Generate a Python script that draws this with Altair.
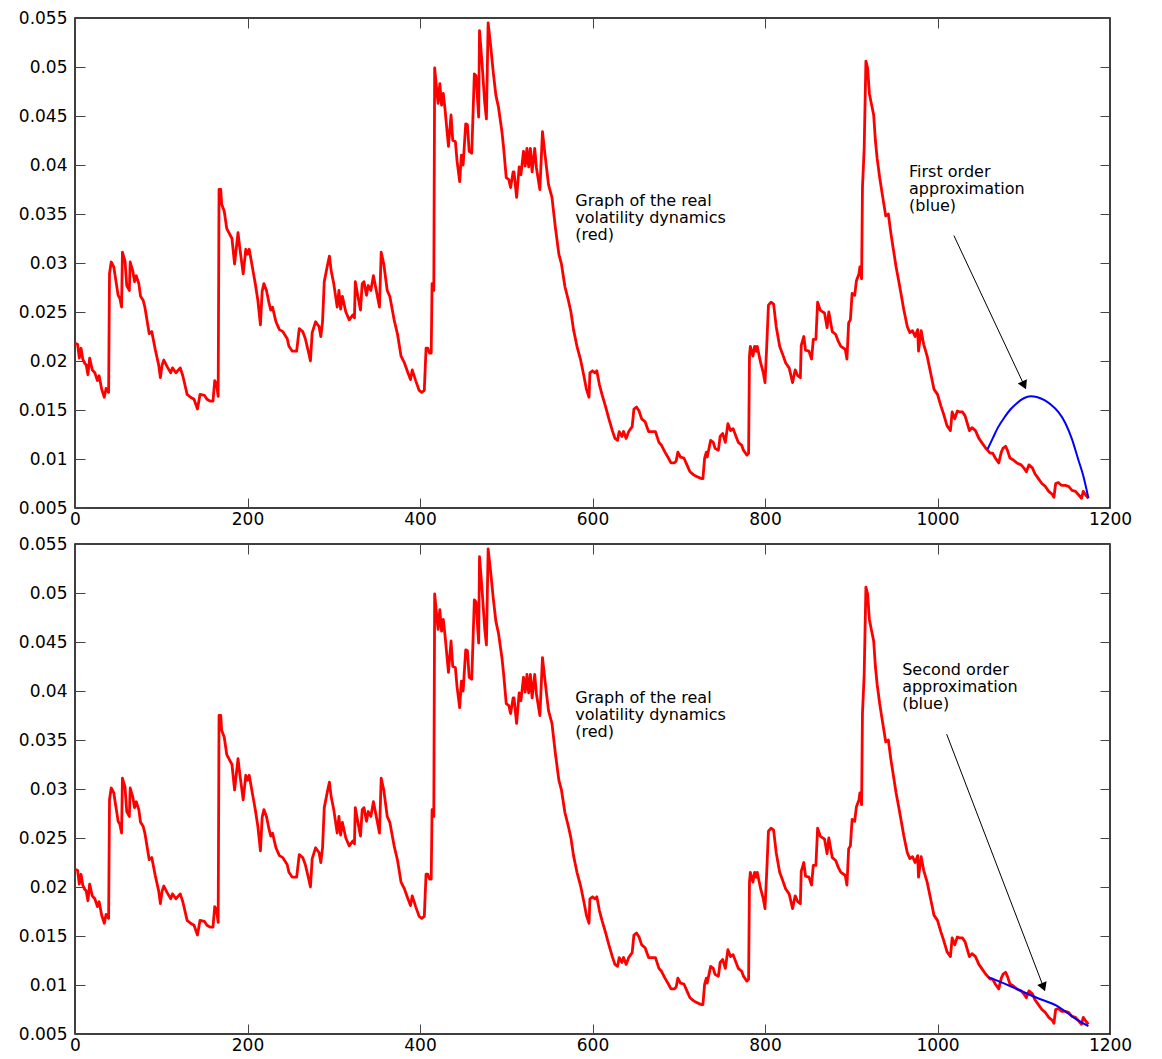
import altair as alt
import pandas as pd

# ---------------- data ----------------
t_red = [0, 3, 5, 7, 9, 11, 13, 15, 17, 20, 23, 26, 28, 31, 34, 36, 39, 40, 42, 45,
         50, 52, 54, 55, 58, 60, 63, 64, 67, 69, 71, 74, 76, 79, 81, 86, 89, 93, 97, 99,
         101, 103, 107, 111, 113, 117, 122, 125, 130, 134, 138, 142, 145, 150, 153, 157, 160, 162, 164, 166,
         167, 169, 170, 173, 176, 179, 182, 185, 189, 191, 195, 198, 200, 202, 206, 209, 212, 215, 217, 219,
         222, 225, 227, 229, 233, 237, 241, 243, 246, 248, 252, 257, 260, 264, 267, 271, 273, 275, 279, 283,
         285, 287, 289, 293, 295, 297, 300, 304, 306, 308, 310, 314, 318, 322, 324, 325, 328, 331, 333, 335,
         338, 340, 343, 346, 350, 353, 355, 358, 362, 365, 370, 374, 378, 382, 386, 389, 391, 395, 399, 402,
         405, 407, 409, 411, 413, 414, 416, 417, 420, 421, 423, 425, 427, 429, 433, 436, 438, 441, 443, 446,
         448, 450, 453, 455, 457, 460, 463, 465, 468, 469, 472, 475, 477, 479, 482, 485, 488, 491, 495, 497,
         500, 503, 505, 508, 509, 512, 515, 517, 520, 522, 524, 526, 528, 530, 533, 535, 539, 542, 545, 549,
         553, 557, 561, 564, 568, 572, 575, 578, 582, 586, 590, 593, 596, 597, 600, 603, 605, 608, 611, 615,
         619, 623, 626, 629, 631, 634, 636, 639, 642, 646, 648, 651, 654, 657, 661, 665, 669, 673, 677, 680,
         684, 688, 691, 695, 697, 699, 702, 706, 710, 713, 717, 721, 726, 728, 730, 732, 733, 737, 740, 742,
         746, 748, 751, 754, 757, 760, 763, 766, 769, 773, 775, 779, 781, 782, 783, 786, 788, 790, 791, 795,
         798, 800, 802, 804, 807, 810, 813, 817, 820, 824, 828, 832, 835, 838, 841, 842, 845, 847, 851, 854,
         856, 859, 861, 864, 867, 869, 872, 874, 878, 882, 885, 888, 893, 895, 897, 899, 901, 904, 906, 909,
         910, 912, 913, 915, 917, 919, 921, 923, 926, 928, 930, 933, 936, 940, 943, 946, 949, 952, 955, 958,
         961, 965, 968, 971, 974, 977, 978, 981, 984, 988, 992, 996, 1000, 1004, 1007, 1011, 1015, 1017, 1020, 1023,
         1026, 1029, 1032, 1034, 1037, 1040, 1044, 1048, 1052, 1056, 1058, 1061, 1064, 1067, 1071, 1074, 1076, 1079, 1081, 1084,
         1088, 1092, 1097, 1100, 1103, 1106, 1110, 1113, 1117, 1121, 1125, 1129, 1133, 1135, 1137, 1140, 1144, 1148, 1152, 1156,
         1160, 1164, 1167, 1169, 1172, 1175]
v_red = [.0218, .0217, .0203, .0213, .0202, .0198, .0196, .0186, .0203, .0191, .0188, .0180, .0185, .0171, .0163, .0172, .0168, .0289, .0301, .0296,
         .0267, .0264, .0255, .0311, .0302, .0277, .0272, .0301, .0292, .0281, .0287, .0279, .0266, .0262, .0255, .0228, .0230, .0212, .0196, .0183,
         .0196, .0201, .0194, .0188, .0193, .0188, .0193, .0185, .0166, .0163, .0161, .0151, .0166, .0165, .0161, .0159, .0159, .0180, .0177, .0164,
         .0375, .0375, .0360, .0353, .0335, .0330, .0325, .0299, .0331, .0316, .0289, .0314, .0309, .0314, .0294, .0279, .0262, .0237, .0271, .0279,
         .0272, .0259, .0252, .0255, .0240, .0232, .0230, .0227, .0223, .0215, .0210, .0210, .0233, .0230, .0223, .0208, .0200, .0229, .0240, .0235,
         .0225, .0240, .0281, .0299, .0307, .0292, .0279, .0255, .0272, .0253, .0266, .0250, .0242, .0247, .0244, .0281, .0266, .0252, .0279, .0281,
         .0267, .0277, .0272, .0287, .0269, .0255, .0311, .0299, .0272, .0266, .0242, .0227, .0205, .0198, .0188, .0181, .0191, .0180, .0170, .0168,
         .0170, .0213, .0213, .0208, .0208, .0279, .0272, .0499, .0471, .0463, .0483, .0461, .0473, .0457, .0419, .0451, .0425, .0424, .0404, .0383,
         .0410, .0400, .0442, .0441, .0414, .0412, .0493, .0491, .0449, .0537, .0503, .0464, .0447, .0545, .0521, .0494, .0471, .0459, .0434, .0417,
         .0387, .0385, .0377, .0393, .0393, .0367, .0398, .0390, .0414, .0399, .0417, .0398, .0417, .0393, .0417, .0397, .0375, .0434, .0410, .0380,
         .0367, .0336, .0309, .0299, .0276, .0262, .0250, .0232, .0215, .0202, .0185, .0171, .0163, .0188, .0190, .0188, .0190, .0176, .0166, .0154,
         .0141, .0129, .0121, .0119, .0128, .0123, .0128, .0121, .0128, .0133, .0151, .0153, .0149, .0141, .0138, .0128, .0128, .0128, .0117, .0114,
         .0107, .0101, .0096, .0096, .0098, .0107, .0102, .0101, .0093, .0087, .0084, .0082, .0080, .0080, .0101, .0107, .0102, .0119, .0117, .0111,
         .0109, .0123, .0126, .0117, .0136, .0129, .0131, .0124, .0117, .0114, .0109, .0104, .0106, .0205, .0215, .0205, .0215, .0210, .0215, .0198,
         .0188, .0178, .0215, .0257, .0260, .0258, .0235, .0215, .0208, .0198, .0193, .0178, .0191, .0185, .0183, .0216, .0225, .0211, .0210, .0202,
         .0222, .0222, .0260, .0252, .0250, .0249, .0234, .0250, .0230, .0227, .0220, .0215, .0212, .0202, .0239, .0242, .0269, .0267, .0282, .0289,
         .0296, .0284, .0377, .0417, .0506, .0499, .0473, .0464, .0451, .0425, .0407, .0387, .0370, .0348, .0350, .0330, .0313, .0296, .0282, .0267,
         .0252, .0235, .0229, .0231, .0225, .0232, .0210, .0231, .0217, .0205, .0188, .0171, .0166, .0154, .0146, .0134, .0129, .0148, .0141, .0149,
         .0148, .0148, .0144, .0138, .0129, .0132, .0129, .0121, .0116, .0111, .0109, .0106, .0106, .0101, .0096, .0107, .0111, .0113, .0109, .0101,
         .0099, .0096, .0094, .0091, .0087, .0094, .0091, .0085, .0080, .0075, .0072, .0067, .0064, .0061, .0075, .0076, .0073, .0073, .0072, .0068,
         .0067, .0063, .0060, .0067, .0063, .0060]

# first order approximation (top panel)
t_blue1 = [1058, 1064, 1070, 1078, 1085, 1092, 1100, 1108, 1116, 1124, 1132, 1140, 1148, 1156, 1163, 1169, 1175]
v_blue1 = [.0110, .0121, .0132, .0143, .0151, .0157, .0162, .0164, .0163, .0160, .0155, .0148, .0137, .0120, .0100, .0083, .0060]

# second order approximation (bottom panel)
t_blue2 = [1059, 1084, 1115, 1138, 1161, 1175]
v_blue2 = [.0108, .0099, .0087, .0079, .0065, .0058]

x_ticks = [0, 200, 400, 600, 800, 1000, 1200]
y_ticks = [0.005, 0.01, 0.015, 0.02, 0.025, 0.03, 0.035, 0.04, 0.045, 0.05, 0.055]

# annotations
red_note = "Graph of the real\nvolatility dynamics\n(red)"
blue_note_1 = "First order\napproximation\n(blue)"
blue_note_2 = "Second order\napproximation\n(blue)"
notes_top_t = [580, 967]
notes_top_v = [0.0371, 0.0401]
notes_bot_t = [580, 959]
notes_bot_v = [0.0401, 0.0430]

# arrows: start (t, v) -> head (t, v), head angle
arrow_top = [1019, 0.0328, 1100.5, 0.01752, 155]
arrow_bot = [1010.6, 0.0356, 1122.9, 0.00978, 159]

FONT = "DejaVu Sans"
FS = 17
NOTE_FS = 16
red_df = pd.DataFrame({"t": t_red, "v": v_red})


def panel(bt, bv, note_t, note_v, note_txt, arrow):
    xs = alt.Scale(domain=[0, 1200], nice=False, zero=False)
    ys = alt.Scale(domain=[0.005, 0.055], nice=False, zero=False)

    red = alt.Chart(red_df).mark_line(color="#ff0000", strokeWidth=2.8, strokeJoin="round").encode(
        x=alt.X("t:Q", scale=xs, title="",
                axis=alt.Axis(orient="bottom", values=x_ticks, format="d", offset=-10, tickSize=10,
                              domain=False, grid=False, labelPadding=3, labelFlush=False)),
        y=alt.Y("v:Q", scale=ys, title="",
                axis=alt.Axis(orient="left", values=y_ticks, format=".3~f", offset=-10,
                              tickSize=10, domain=False, grid=False, labelPadding=8,
                              labelFlush=False)),
    )
    blue = alt.Chart(pd.DataFrame({"t": bt, "v": bv})).mark_line(
        color="#0000ff", strokeWidth=2, interpolate="monotone").encode(
        x=alt.X("t:Q", scale=xs, title="",
                axis=alt.Axis(orient="top", values=x_ticks, offset=-10, tickSize=10,
                              domain=False, grid=False, labels=False)),
        y=alt.Y("v:Q", scale=ys, title="",
                axis=alt.Axis(orient="right", values=y_ticks, offset=-10, tickSize=10,
                              domain=False, grid=False, labels=False)),
    )
    notes = alt.Chart(pd.DataFrame({"t": note_t, "v": note_v, "label": note_txt})).mark_text(
        align="left", baseline="top", lineBreak="\n", font=FONT, fontSize=NOTE_FS,
        lineHeight=17, color="black").encode(
        x=alt.X("t:Q", scale=xs, axis=None),
        y=alt.Y("v:Q", scale=ys, axis=None),
        text="label:N",
    )
    adf = pd.DataFrame({"t": [arrow[0]], "v": [arrow[1]], "t2": [arrow[2]], "v2": [arrow[3]]})
    line = alt.Chart(adf).mark_rule(color="black", strokeWidth=1).encode(
        x=alt.X("t:Q", scale=xs, axis=None),
        y=alt.Y("v:Q", scale=ys, axis=None),
        x2="t2:Q",
        y2="v2:Q",
    )
    head = alt.Chart(adf).mark_point(shape="triangle-up", filled=True, color="black",
                                     opacity=1, size=100, angle=arrow[4]).encode(
        x=alt.X("t2:Q", scale=xs, axis=None),
        y=alt.Y("v2:Q", scale=ys, axis=None),
    )
    return alt.layer(red, blue, notes, line, head).resolve_axis(
        x="independent", y="independent").properties(width=1035, height=490)


top = panel(t_blue1, v_blue1, notes_top_t, notes_top_v, [red_note, blue_note_1], arrow_top)
bot = panel(t_blue2, v_blue2, notes_bot_t, notes_bot_v, [red_note, blue_note_2], arrow_bot)

chart = alt.vconcat(top, bot, spacing=6).configure_view(
    stroke="black", strokeWidth=1.5
).configure_axis(
    labelFont=FONT, labelFontSize=FS, labelColor="black", tickColor="#444", tickWidth=1
).properties(
    padding={"left": 9, "top": 0, "right": 5, "bottom": 0},
    background="white",
)

chart.save("out.html", embed_options={"renderer": "svg", "actions": False})
